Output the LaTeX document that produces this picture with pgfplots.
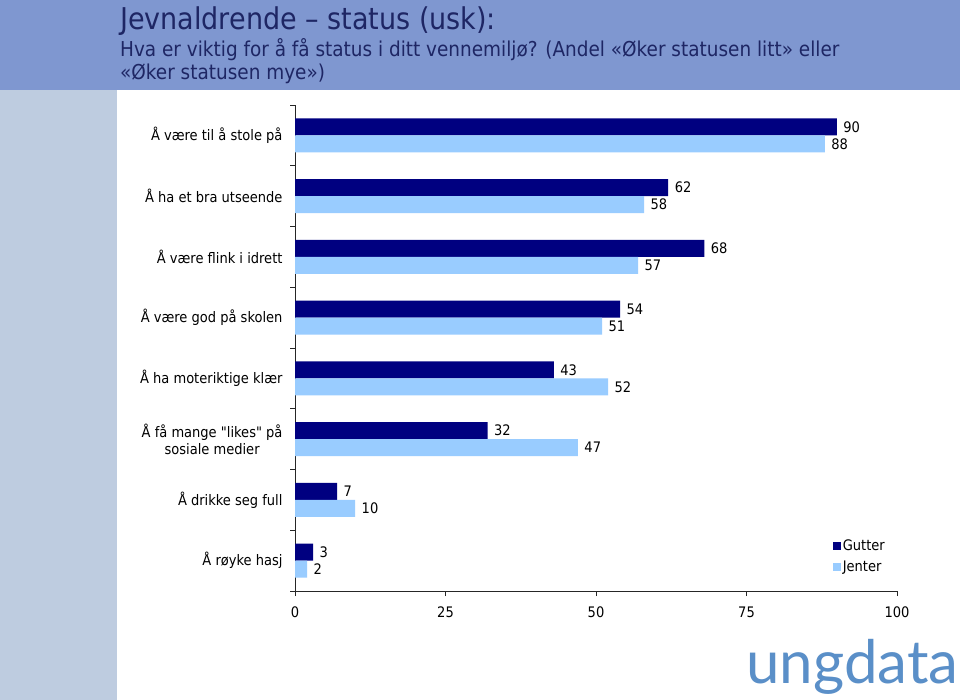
\documentclass[border=0pt]{standalone}
\usepackage{pgfplots}
\pgfplotsset{compat=1.18}
\usepackage{fontspec}
\setmainfont{DejaVu Sans Condensed}[Ligatures=TeXOff]
\newfontfamily\logofont{Lato}
\definecolor{band}{RGB}{127,151,208}
\definecolor{side}{RGB}{190,204,224}
\definecolor{ttl}{RGB}{30,38,100}
\definecolor{gutter}{RGB}{0,0,128}
\definecolor{jenter}{RGB}{153,204,255}
\definecolor{logo}{RGB}{90,143,200}
\begin{document}
\begin{tikzpicture}
\useasboundingbox (0,0) rectangle (960bp,-700bp);
\fill[white] (0,0) rectangle (960bp,-700bp);
\fill[band] (0,0) rectangle (960bp,-90bp);
\fill[side] (0,-90bp) rectangle (117bp,-700bp);
\node[anchor=base west, inner sep=0, text=ttl, font=\fontsize{30bp}{36bp}\selectfont] at (120bp,-29bp) {Jevnaldrende – status (usk):};
\node[anchor=base west, inner sep=0, text=ttl, font=\fontsize{20.5bp}{24bp}\selectfont] at (120bp,-56bp) {Hva er viktig for å få status i ditt vennemiljø? (Andel «Øker statusen litt» eller};
\node[anchor=base west, inner sep=0, text=ttl, font=\fontsize{20.5bp}{24bp}\selectfont] at (120bp,-79bp) {«Øker statusen mye»)};
\node[anchor=base west, inner sep=0, text=logo, font=\logofont\fontsize{60bp}{60bp}\selectfont] at (746bp,-683bp) {ungdata};
\begin{axis}[
  at={(295bp,-591bp)}, anchor=south west,
  scale only axis, width=602bp, height=486bp,
  xmin=0, xmax=100, ymin=-0.5, ymax=7.5,
  xbar, bar width=17bp,
  axis lines*=left,
  axis line style={-, black!85, line width=0.8bp},
  tick align=outside,
  major tick length=5bp,
  tick style={black!85, line width=0.8bp},
  xtick={0,25,50,75,100},
  ytick={-0.5,0.5,...,7.5},
  yticklabels={},
  extra y ticks={0,1,2,3,4,5,6,7},
  extra y tick labels={Å røyke hasj, Å drikke seg full, {Å få mange "likes" på\\sosiale medier}, Å ha moteriktige klær, Å være god på skolen, Å være flink i idrett, Å ha et bra utseende, Å være til å stole på},
  extra y tick style={tick style={draw=none}},
  /pgf/number format/assume math mode=true,
  ticklabel style={font=\fontsize{14.5bp}{17bp}\selectfont},
  yticklabel style={align=center, xshift=-4bp},
  xticklabel style={yshift=-7bp},
  point meta=x,
  nodes near coords,
  nodes near coords style={anchor=west, font=\fontsize{14.5bp}{17bp}\selectfont, xshift=3bp},
  legend style={at={(0.893,0.109)}, anchor=north west, draw=none, fill=none, font=\fontsize{14.5bp}{17bp}\selectfont, row sep=4bp, inner sep=0pt},
  legend cell align=left,
  legend image code/.code={\fill[#1] (0bp,-4bp) rectangle (8bp,4bp);},
]
\addplot[fill=gutter, draw=none, bar shift=8.5bp] coordinates {(90,7) (62,6) (68,5) (54,4) (43,3) (32,2) (7,1) (3,0)};
\addplot[fill=jenter, draw=none, bar shift=-8.5bp] coordinates {(88,7) (58,6) (57,5) (51,4) (52,3) (47,2) (10,1) (2,0)};
\legend{Gutter, Jenter}
\end{axis}
\end{tikzpicture}
\end{document}
